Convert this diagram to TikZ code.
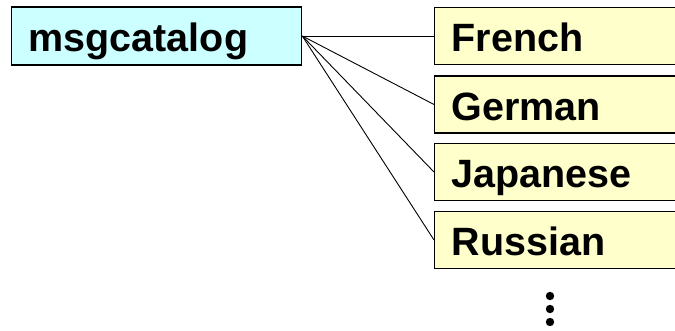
\documentclass[tikz,border=0pt]{standalone}
\usepackage{fontspec}
\setmainfont{Liberation Sans}
\definecolor{catfill}{RGB}{204,255,255}
\definecolor{langfill}{RGB}{255,255,204}

\tikzset{
  catbox/.style={draw, line width=1.3pt, fill=catfill, anchor=west,
    minimum height=58pt, inner xsep=17pt, inner ysep=0pt, text width=256pt,
    align=left, text height=32pt, text depth=0pt,
    font=\fontsize{39.5}{39.5}\selectfont\bfseries},
  langbox/.style={draw, line width=1.3pt, fill=langfill, anchor=west,
    minimum height=57pt, inner xsep=17pt, inner ysep=0pt, text width=240pt,
    align=left, text height=32pt, text depth=0pt,
    font=\fontsize{39.5}{39.5}\selectfont\bfseries},
}

\begin{document}
\begin{tikzpicture}[x=1pt,y=-1pt]
    \useasboundingbox (0,0) rectangle (675,331);
    \clip (0,0) rectangle (675,331);

    %Catalogue
    \node[catbox] (cat) at (11,36) {msgcatalog};

    %Langues
    \node[langbox] (fr) at (434,36) {French};
    \node[langbox] (de) at (434,104.5) {German};
    \node[langbox] (ja) at (434,172) {Japanese};
    \node[langbox] (ru) at (434,240) {Russian};

    %Liens
    \foreach \l in {fr,de,ja,ru}
      \draw[line width=0.9pt] (cat.east) -- (\l.west);

    %Points
    \foreach \y in {296,309,322}
      \fill (550,\y) circle (4.2);
\end{tikzpicture}
\end{document}
